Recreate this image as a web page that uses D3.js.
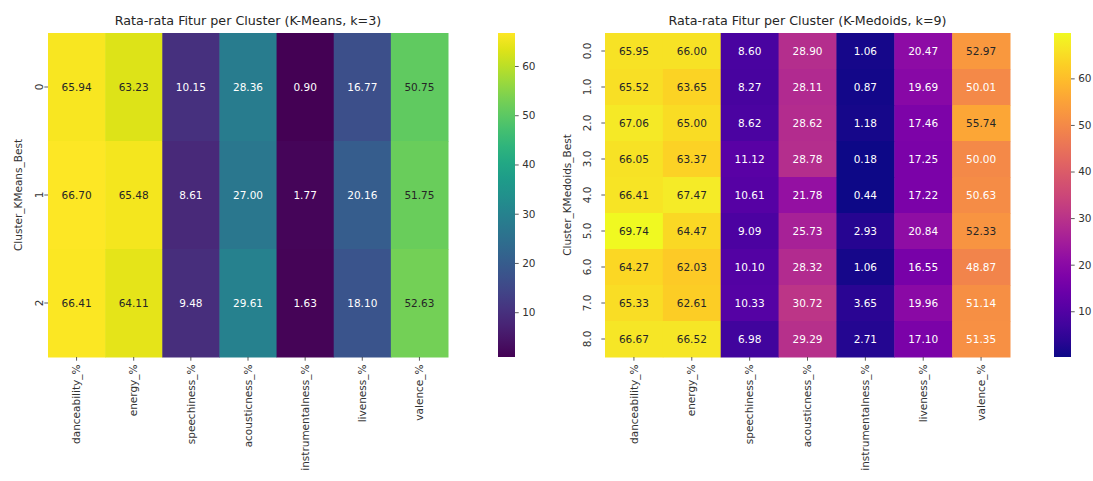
<!DOCTYPE html>
<html>
<head>
<meta charset="utf-8">
<script src="https://cdn.jsdelivr.net/npm/d3@7"></script>
<style>
	body { margin: 0; background: #fff; }
	svg text { font-family: "DejaVu Sans", sans-serif; }
</style>
</head>
<body>
<div id="chart"></div>
<script>
// data
const features = ['danceability_%', 'energy_%', 'speechiness_%', 'acousticness_%', 'instrumentalness_%', 'liveness_%', 'valence_%'];

const kmeansClusters = ['0', '1', '2'];
const kmeansValues = [
	[65.94, 63.23, 10.15, 28.36, 0.90, 16.77, 50.75],
	[66.70, 65.48, 8.61, 27.00, 1.77, 20.16, 51.75],
	[66.41, 64.11, 9.48, 29.61, 1.63, 18.10, 52.63]
];

const kmedoidsClusters = ['0.0', '1.0', '2.0', '3.0', '4.0', '5.0', '6.0', '7.0', '8.0'];
const kmedoidsValues = [
	[65.95, 66.00, 8.60, 28.90, 1.06, 20.47, 52.97],
	[65.52, 63.65, 8.27, 28.11, 0.87, 19.69, 50.01],
	[67.06, 65.00, 8.62, 28.62, 1.18, 17.46, 55.74],
	[66.05, 63.37, 11.12, 28.78, 0.18, 17.25, 50.00],
	[66.41, 67.47, 10.61, 21.78, 0.44, 17.22, 50.63],
	[69.74, 64.47, 9.09, 25.73, 2.93, 20.84, 52.33],
	[64.27, 62.03, 10.10, 28.32, 1.06, 16.55, 48.87],
	[65.33, 62.61, 10.33, 30.72, 3.65, 19.96, 51.14],
	[66.67, 66.52, 6.98, 29.29, 2.71, 17.10, 51.35]
];

const colorbarTicks = [10, 20, 30, 40, 50, 60];

const W = 1093, H = 481;
const svg = d3.select('#chart').append('svg')
	.attr('width', W)
	.attr('height', H);

// relative luminance like seaborn picks annotation color
function textColor(c) {
	const rgb = d3.rgb(c);
	const lin = v => { v = v / 255; return v <= 0.03928 ? v / 12.92 : Math.pow((v + 0.055) / 1.055, 2.4); };
	const lum = 0.2126 * lin(rgb.r) + 0.7152 * lin(rgb.g) + 0.0722 * lin(rgb.b);
	return lum > 0.408 ? '#262626' : '#ffffff';
}

function drawHeatmap(opts) {
	const m = opts.box; // x0, x1, y0, y1
	const rows = opts.rows, values = opts.values;

	const flat = values.flat();
	const ext = d3.extent(flat);
	const color = d3.scaleSequential(opts.interp).domain(ext);

	const x = d3.scaleBand().domain(features).range([m.x0, m.x1]);
	const y = d3.scaleBand().domain(rows).range([m.y0, m.y1]);

	const g = svg.append('g').attr('class', 'heatmap');

	const cells = [];
	rows.forEach((r, i) => features.forEach((f, j) => cells.push({ row: r, col: f, v: values[i][j] })));

	g.selectAll('rect.cell')
		.data(cells)
		.enter().append('rect')
		.attr('class', 'cell')
		.attr('x', d => x(d.col))
		.attr('y', d => y(d.row))
		.attr('width', x.bandwidth() + 0.5)
		.attr('height', y.bandwidth() + 0.5)
		.attr('fill', d => color(d.v));

	g.selectAll('text.annot')
		.data(cells)
		.enter().append('text')
		.attr('class', 'annot')
		.attr('x', d => x(d.col) + x.bandwidth() / 2)
		.attr('y', d => y(d.row) + y.bandwidth() / 2)
		.attr('dy', '0.35em')
		.attr('text-anchor', 'middle')
		.style('font-size', '10.5px')
		.style('fill', d => textColor(color(d.v)))
		.text(d => d3.format('.2f')(d.v));

	// x axis
	const xAxis = g.append('g')
		.attr('transform', 'translate(0,' + m.y1 + ')')
		.call(d3.axisBottom(x).tickSize(3.7).tickPadding(0).tickFormat(''));
	xAxis.select('.domain').remove();
	xAxis.selectAll('line').attr('stroke', '#333').attr('stroke-width', 0.8);
	xAxis.selectAll('.tick').append('text')
		.attr('transform', 'rotate(-90)')
		.attr('x', -7.5)
		.attr('y', 0)
		.attr('dy', '0.35em')
		.attr('text-anchor', 'end')
		.attr('fill', '#333')
		.style('font-size', '10.5px')
		.text(d => d);

	// y axis
	const yAxis = g.append('g')
		.attr('transform', 'translate(' + m.x0 + ',0)')
		.call(d3.axisLeft(y).tickSize(3.7).tickFormat(''));
	yAxis.select('.domain').remove();
	yAxis.selectAll('line').attr('stroke', '#333').attr('stroke-width', 0.8);
	yAxis.selectAll('.tick').append('text')
		.attr('transform', 'translate(' + (opts.yTickX - m.x0) + ',0) rotate(-90)')
		.attr('dy', '0.35em')
		.attr('text-anchor', 'middle')
		.attr('fill', '#333')
		.style('font-size', '10.5px')
		.text(d => d);

	g.append('text')
		.attr('transform', 'translate(' + opts.yLabelX + ',' + ((m.y0 + m.y1) / 2) + ') rotate(-90)')
		.attr('dy', '0.35em')
		.attr('text-anchor', 'middle')
		.attr('fill', '#333')
		.style('font-size', '10.5px')
		.text(opts.yLabel);

	// title
	g.append('text')
		.attr('x', (m.x0 + m.x1) / 2)
		.attr('y', m.y0 - 8)
		.attr('text-anchor', 'middle')
		.attr('fill', '#262626')
		.style('font-size', '12.7px')
		.text(opts.title);

	// colorbar
	const cb = opts.cbar;
	const gradId = 'grad-' + opts.id;
	const grad = svg.append('defs').append('linearGradient')
		.attr('id', gradId)
		.attr('x1', '0%').attr('x2', '0%')
		.attr('y1', '100%').attr('y2', '0%');
	d3.range(0, 1.0001, 0.05).forEach(t => {
		grad.append('stop')
			.attr('offset', (t * 100) + '%')
			.attr('stop-color', opts.interp(t));
	});
	g.append('rect')
		.attr('x', cb.x)
		.attr('y', m.y0)
		.attr('width', cb.w)
		.attr('height', m.y1 - m.y0)
		.attr('fill', 'url(#' + gradId + ')');

	const cScale = d3.scaleLinear().domain(ext).range([m.y1, m.y0]);
	const cAxis = g.append('g')
		.attr('transform', 'translate(' + (cb.x + cb.w) + ',0)')
		.call(d3.axisRight(cScale).tickValues(colorbarTicks).tickSize(3.7).tickPadding(3.5));
	cAxis.select('.domain').remove();
	cAxis.selectAll('line').attr('stroke', '#333').attr('stroke-width', 0.8);
	cAxis.selectAll('text')
		.attr('fill', '#333')
		.style('font-size', '10.5px')
		.style('font-family', '"DejaVu Sans", sans-serif');
}

drawHeatmap({
	id: 'kmeans',
	rows: kmeansClusters,
	values: kmeansValues,
	interp: d3.interpolateViridis,
	box: { x0: 48, x1: 448, y0: 33, y1: 357 },
	cbar: { x: 498, w: 17 },
	yTickX: 39,
	yLabelX: 18,
	yLabel: 'Cluster_KMeans_Best',
	title: 'Rata-rata Fitur per Cluster (K-Means, k=3)'
});

drawHeatmap({
	id: 'kmedoids',
	rows: kmedoidsClusters,
	values: kmedoidsValues,
	interp: d3.interpolatePlasma,
	box: { x0: 605, x1: 1010, y0: 33, y1: 357 },
	cbar: { x: 1054, w: 17 },
	yTickX: 587,
	yLabelX: 567,
	yLabel: 'Cluster_KMedoids_Best',
	title: 'Rata-rata Fitur per Cluster (K-Medoids, k=9)'
});
</script>
</body>
</html>
